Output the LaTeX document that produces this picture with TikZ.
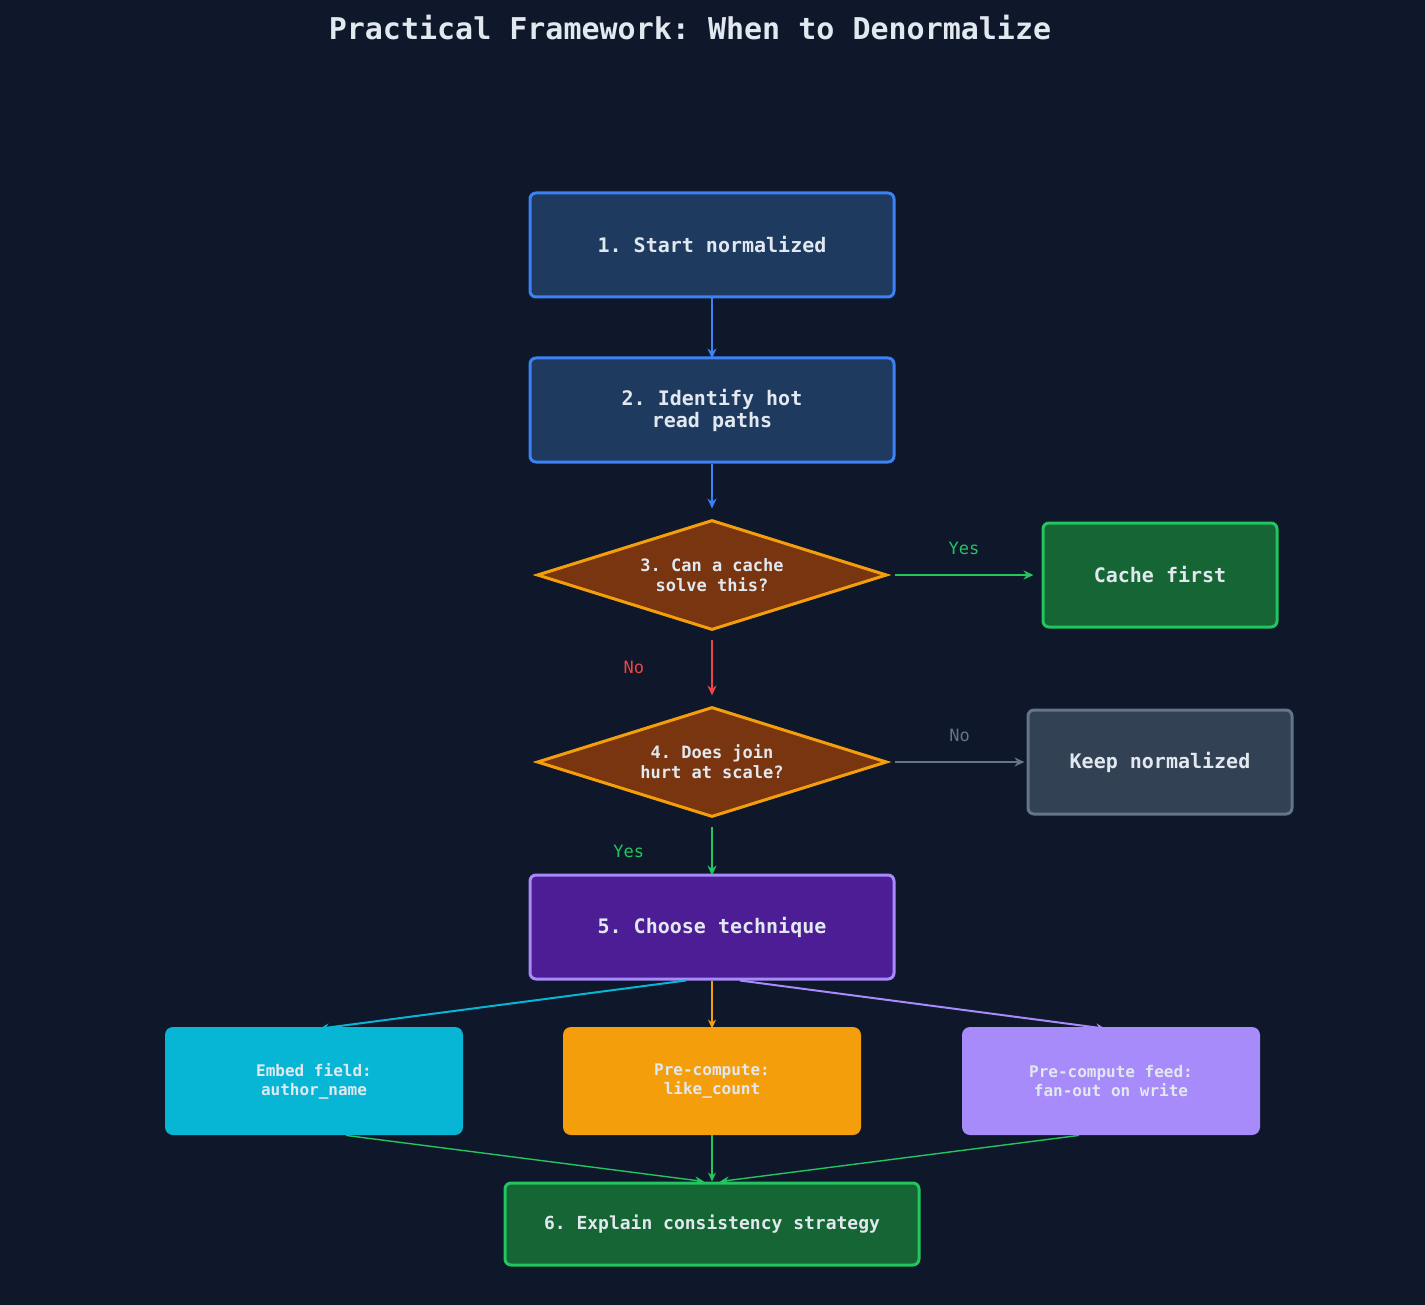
\documentclass[tikz,border=0pt]{standalone}
\usepackage{fontspec}
\setmonofont{DejaVu Sans Mono}
\usetikzlibrary{shapes.geometric,arrows.meta}
\definecolor{bg}{HTML}{0F172A}
\definecolor{txt}{HTML}{E2E8F0}
\definecolor{bluef}{HTML}{1E3A5F}\definecolor{blued}{HTML}{3B82F6}
\definecolor{brf}{HTML}{78350F}\definecolor{amb}{HTML}{F59E0B}
\definecolor{grf}{HTML}{166534}\definecolor{grd}{HTML}{22C55E}
\definecolor{slf}{HTML}{334155}\definecolor{sld}{HTML}{64748B}
\definecolor{puf}{HTML}{4C1D95}\definecolor{pud}{HTML}{A78BFA}
\definecolor{cy}{HTML}{06B6D4}\definecolor{rd}{HTML}{EF4444}
\tikzset{
 box/.style={rectangle,rounded corners=3pt,line width=1.5pt,text=txt,font=\ttfamily\bfseries\fontsize{10}{11}\selectfont,align=center,inner sep=0pt},
 dia/.style={diamond,aspect=3.18,fill=brf,draw=amb,line width=1.5pt,text=txt,font=\ttfamily\bfseries\fontsize{8.5}{10}\selectfont,align=center,inner sep=0pt,minimum width=175pt,minimum height=55pt},
 small/.style={rectangle,rounded corners=4pt,text=txt,font=\ttfamily\bfseries\fontsize{8}{9.5}\selectfont,align=center,minimum width=149pt,minimum height=54pt},
 arr/.style={line width=1.2pt,-{Stealth[length=5pt,width=4.5pt]}},
 thin/.style={line width=0.7pt,-{Stealth[length=4.5pt,width=4pt]}},
 lab/.style={font=\ttfamily\fontsize{8.5}{10}\selectfont}
}
\begin{document}
\begin{tikzpicture}[x=0.5pt,y=-0.5pt]
\fill[bg] (0,0) rectangle (1425,1305);
\useasboundingbox (0,0) rectangle (1425,1305);
\node[text=txt,font=\ttfamily\bfseries\fontsize{15}{17}\selectfont] (title) at (690,28) {Practical Framework: When to Denormalize};
\node[box,fill=bluef,draw=blued,minimum width=182pt,minimum height=52pt] (n1) at (712,245) {1. Start normalized};
\node[box,fill=bluef,draw=blued,minimum width=182pt,minimum height=52pt] (n2) at (712,410) {2. Identify hot\\read paths};
\node[dia] (n3) at (712,575) {3. Can a cache\\solve this?};
\node[box,fill=grf,draw=grd,minimum width=117pt,minimum height=52pt] (c) at (1160,575) {Cache first};
\node[dia] (n4) at (712,762) {4. Does join\\hurt at scale?};
\node[box,fill=slf,draw=sld,minimum width=132pt,minimum height=52pt] (k) at (1160,762) {Keep normalized};
\node[box,fill=puf,draw=pud,minimum width=182pt,minimum height=52pt] (n5) at (712,927) {5. Choose technique};
\node[small,fill=cy] (a) at (314,1081) {Embed field:\\author\_name};
\node[small,fill=amb] (b) at (712,1081) {Pre-compute:\\like\_count};
\node[small,fill=pud] (d) at (1111,1081) {Pre-compute feed:\\fan-out on write};
\node[box,fill=grf,draw=grd,minimum width=207pt,minimum height=41pt,font=\ttfamily\bfseries\fontsize{9}{10}\selectfont] (n6) at (712,1224) {6. Explain consistency strategy};
\draw[arr,blued] (n1.south) -- ([yshift=-1pt]n2.north);
\draw[arr,blued] (n2.south) -- ([yshift=5pt]n3.north);
\draw[arr,grd] ([xshift=3pt]n3.east) -- ([xshift=-4pt]c.west) node[lab,text=grd,midway,above=6pt] {Yes};
\draw[arr,rd] ([yshift=-4pt]n3.south) -- ([yshift=5pt]n4.north) node[lab,text=rd,midway,left=30pt] {No};
\draw[arr,sld] ([xshift=3pt]n4.east) -- ([xshift=-1pt]k.west) node[lab,text=sld,midway,above=6pt] {No};
\draw[arr,grd] ([yshift=-4pt]n4.south) -- ([yshift=-1pt]n5.north) node[lab,text=grd,midway,left=30pt] {Yes};
\draw[line width=1pt,cy,-{Stealth[length=4.5pt,width=4pt]}] ([xshift=-13pt]n5.south) -- ([xshift=3pt,yshift=-1pt]a.north);
\draw[line width=1pt,amb,-{Stealth[length=4.5pt,width=4pt]}] (n5.south) -- ([yshift=-1pt]b.north);
\draw[line width=1pt,pud,-{Stealth[length=4.5pt,width=4pt]}] ([xshift=14pt]n5.south) -- ([xshift=-3pt,yshift=-1pt]d.north);
\draw[thin,grd] ([xshift=16pt]a.south) -- ([xshift=-4pt]n6.north);
\draw[thin,grd] (b.south) -- (n6.north);
\draw[thin,grd] ([xshift=-16pt]d.south) -- ([xshift=4pt]n6.north);
\end{tikzpicture}
\end{document}
